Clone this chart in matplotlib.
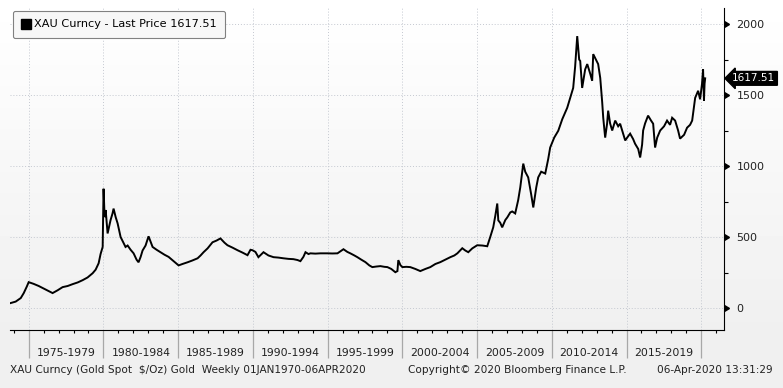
import numpy as np
import matplotlib
matplotlib.use("Agg")
import matplotlib.pyplot as plt
import matplotlib.transforms as mtransforms
from matplotlib.lines import Line2D
from matplotlib.ticker import MultipleLocator

# gold spot, weekly (decimal year, USD/oz)
years = [1973.80, 1974.13, 1974.47, 1974.67, 1974.87, 1975.00, 1975.33, 1975.67,
         1976.14, 1976.60, 1976.94, 1977.27, 1977.61, 1977.94, 1978.28, 1978.61,
         1978.94, 1979.28, 1979.48, 1979.68, 1979.81, 1979.95, 1979.98, 1980.01,
         1980.08, 1980.15, 1980.28, 1980.48, 1980.61, 1980.68, 1980.82, 1980.95,
         1981.15, 1981.48, 1981.62, 1981.82, 1982.02, 1982.22, 1982.35, 1982.49,
         1982.62, 1982.82, 1983.02, 1983.29, 1983.56, 1983.82, 1984.09, 1984.36,
         1984.69, 1985.03, 1985.29, 1985.63, 1985.96, 1986.30, 1986.50, 1986.70,
         1986.97, 1987.30, 1987.57, 1987.83, 1988.10, 1988.30, 1988.64, 1988.97,
         1989.31, 1989.64, 1989.84, 1989.97, 1990.17, 1990.37, 1990.71, 1991.04,
         1991.38, 1991.71, 1992.05, 1992.38, 1992.71, 1992.98, 1993.18, 1993.38,
         1993.52, 1993.72, 1993.85, 1994.18, 1994.52, 1994.99, 1995.32, 1995.66,
         1996.06, 1996.32, 1996.52, 1996.79, 1996.99, 1997.26, 1997.53, 1997.79,
         1997.99, 1998.26, 1998.53, 1998.80, 1999.00, 1999.26, 1999.53, 1999.67,
         1999.73, 1999.87, 2000.00, 2000.27, 2000.53, 2000.87, 2001.20, 2001.54,
         2001.87, 2002.21, 2002.54, 2002.87, 2003.21, 2003.48, 2003.68, 2004.01,
         2004.21, 2004.41, 2004.68, 2005.01, 2005.35, 2005.68, 2005.88, 2006.08,
         2006.22, 2006.35, 2006.42, 2006.55, 2006.68, 2006.89, 2007.02, 2007.22,
         2007.35, 2007.55, 2007.75, 2007.89, 2008.09, 2008.22, 2008.42, 2008.62,
         2008.76, 2008.96, 2009.09, 2009.29, 2009.56, 2009.76, 2009.89, 2010.16,
         2010.43, 2010.70, 2011.03, 2011.23, 2011.43, 2011.56, 2011.70, 2011.83,
         2011.90, 2012.03, 2012.23, 2012.37, 2012.57, 2012.70, 2012.77, 2012.90,
         2013.10, 2013.24, 2013.37, 2013.44, 2013.57, 2013.70, 2013.77, 2013.90,
         2014.04, 2014.24, 2014.44, 2014.57, 2014.77, 2014.91, 2015.11, 2015.24,
         2015.44, 2015.57, 2015.78, 2015.91, 2016.04, 2016.11, 2016.24, 2016.44,
         2016.64, 2016.78, 2016.91, 2017.05, 2017.25, 2017.51, 2017.71, 2017.91,
         2018.05, 2018.25, 2018.45, 2018.58, 2018.85, 2019.05, 2019.25, 2019.39,
         2019.59, 2019.79, 2019.92, 2020.05, 2020.12, 2020.18, 2020.22, 2020.26]
prices = [35, 45, 70, 105, 150, 182, 170, 155,
          130, 105, 125, 147, 155, 168, 180, 196,
          215, 245, 270, 315, 380, 430, 617, 840,
          640, 690, 525, 620, 666, 700, 640, 596,
          500, 430, 440, 410, 385, 340, 322, 360,
          405, 440, 505, 430, 410, 393, 375, 360,
          330, 300, 310, 322, 335, 350, 370, 393,
          420, 463, 475, 490, 460, 442, 425, 407,
          390, 372, 410, 407, 395, 358, 393, 370,
          358, 355, 350, 346, 344, 338, 330, 360,
          393, 380, 385, 383, 385, 385, 384, 385,
          414, 395, 385, 370, 358, 340, 323, 300,
          288, 292, 295, 290, 288, 275, 252, 260,
          337, 302, 288, 290, 288, 275, 260, 275,
          288, 310, 323, 340, 358, 370, 385, 421,
          405, 393, 420, 442, 440, 435, 500, 568,
          650, 736, 617, 600, 568, 620, 638, 673,
          680, 666, 760, 850, 1017, 960, 920, 800,
          708, 850, 920, 960, 947, 1050, 1130, 1200,
          1248, 1330, 1410, 1480, 1550, 1700, 1915, 1750,
          1740, 1550, 1680, 1718, 1650, 1600, 1788, 1760,
          1718, 1620, 1450, 1340, 1200, 1300, 1390, 1300,
          1250, 1320, 1280, 1298, 1230, 1180, 1210, 1228,
          1190, 1157, 1120, 1060, 1150, 1250, 1300, 1355,
          1320, 1298, 1130, 1200, 1250, 1280, 1320, 1290,
          1340, 1320, 1250, 1193, 1220, 1270, 1290, 1320,
          1480, 1530, 1470, 1580, 1680, 1460, 1580, 1617.51]

last_price = 1617.51
period_starts = [1975, 1980, 1985, 1990, 1995, 2000, 2005, 2010, 2015]
period_labels = ["%d-%d" % (y, y + 4) for y in period_starts]
ytick_vals = [0, 500, 1000, 1500, 2000]

fig = plt.figure(figsize=(7.83, 3.88), dpi=100)

# soft white-to-grey background like the terminal screenshot
bg = fig.add_axes([0, 0, 1, 1], zorder=-10)
rows = np.linspace(0, 1, 388)
shade = np.where(rows < 0.85, 1.0 - 0.06 * rows / 0.85, 0.94)
bg.imshow(shade[:, None] * np.ones((1, 10)), cmap="gray", vmin=0, vmax=1,
          aspect="auto", extent=(0, 1, 0, 1))
bg.axis("off")

ax = fig.add_axes([10 / 783, 58 / 388, 714 / 783, 322 / 388])
ax.set_facecolor("none")
ax.plot(years, prices, color="black", lw=1.4, solid_joinstyle="miter")

ax.set_xlim(1973.75, 2021.52)
ax.set_ylim(-155, 2113)

for s in ["top", "left"]:
    ax.spines[s].set_visible(False)
ax.spines["right"].set_color("black")
ax.spines["bottom"].set_color("black")

# y axis on the right
ax.yaxis.tick_right()
ax.set_yticks(ytick_vals)
ax.set_yticklabels([str(v) for v in ytick_vals], fontsize=8, color="#222222")
ax.yaxis.set_minor_locator(MultipleLocator(250))
ax.tick_params(axis="y", which="major", length=0, pad=9)
ax.tick_params(axis="y", which="minor", length=3, width=0.8, direction="out")
tri = mtransforms.blended_transform_factory(ax.transAxes, ax.transData)
ax.plot([1.0] * len(ytick_vals), ytick_vals, ls="none", marker=9, ms=4.5,
        color="black", transform=tri, clip_on=False)

# x axis: year ticks + period separators
ax.set_xticks(period_starts + [2020])
ax.set_xticklabels([])
ax.xaxis.set_minor_locator(MultipleLocator(1))
ax.tick_params(axis="x", which="major", length=20, width=0.9, color="#a8a8a8")
ax.tick_params(axis="x", which="minor", length=2.5, width=0.8, color="black")
lbl = mtransforms.blended_transform_factory(ax.transData, ax.transAxes)
for y0, txt in zip(period_starts, period_labels):
    ax.text(y0 + 2.5, -0.072, txt, transform=lbl, ha="center", va="center",
            fontsize=7.8, color="#222222")

ax.grid(True, which="major", color="#c4c8d0", ls=(0, (1, 2)), lw=0.7)

# last price tag
ax.annotate("%.2f" % last_price, xy=(1.0, last_price), xycoords=tri,
            xytext=(6, 0), textcoords="offset points", ha="left", va="center",
            fontsize=7.6, color="white",
            bbox=dict(boxstyle="larrow,pad=0.18", fc="black", ec="black"))

# legend
handle = Line2D([], [], ls="none", marker="s", ms=7.5, color="black")
leg = ax.legend([handle], ["XAU Curncy - Last Price %.2f" % last_price],
                loc="upper left", bbox_to_anchor=(13 / 783, 1 - 11 / 388),
                bbox_transform=fig.transFigure, fontsize=8.1, frameon=True,
                fancybox=True, edgecolor="#808080", facecolor="#f7f7f7",
                framealpha=1, handlelength=0.8, handletextpad=0.35,
                borderpad=0.75, borderaxespad=0)
leg.get_frame().set_linewidth(0.8)

# footer
fig.text(10 / 783, 0.046, "XAU Curncy (Gold Spot  $/Oz) Gold  Weekly 01JAN1970-06APR2020",
         fontsize=7.6, color="#222222", va="center")
fig.text(408 / 783, 0.046, "Copyright\u00a9 2020 Bloomberg Finance L.P.",
         fontsize=7.6, color="#222222", va="center")
fig.text(773 / 783, 0.046, "06-Apr-2020 13:31:29", fontsize=7.6,
         color="#222222", va="center", ha="right")

fig.savefig("out.png", dpi=100)
